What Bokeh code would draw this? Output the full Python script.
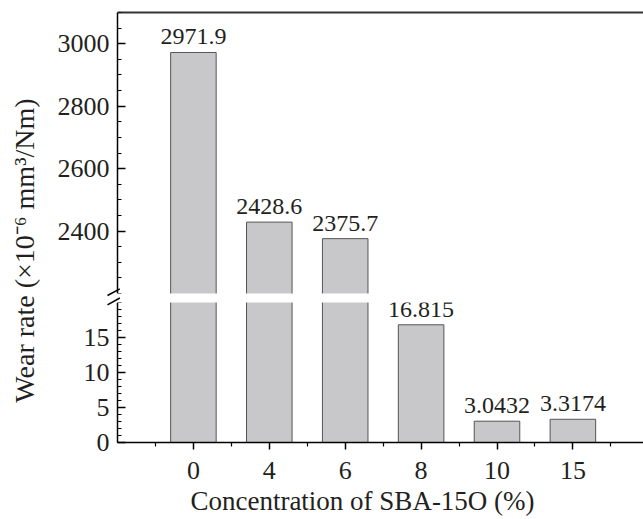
import math
from bokeh.plotting import figure
from bokeh.models import ColumnDataSource, FixedTicker, LinearAxis, Range1d
from bokeh.layouts import row, column
from bokeh.embed import file_html
from bokeh.resources import INLINE
from bokeh.core.properties import value

# ---- data ----
categories = ["0", "4", "6", "8", "10", "15"]
wear_rate = [2971.9, 2428.6, 2375.7, 16.815, 3.0432, 3.3174]
value_labels = ["2971.9", "2428.6", "2375.7", "16.815", "3.0432", "3.3174"]
upper_ticks = [2400, 2600, 2800, 3000]
upper_minor = list(range(2200, 3101, 50))
lower_ticks = [0, 5, 10, 15]
lower_minor = list(range(0, 21, 1))
upper_range = (2200, 3100)
lower_range = (0, 20)
x_label = "Concentration of SBA-15O (%)"
y_label = "Wear rate (\u00d710\u207b\u2076 mm\u00b3/Nm)"

# ---- style / geometry (pixels) ----
FONT = "Liberation Serif"
TXT = "#231f20"
BAR_FILL = "#c8c8ca"
BAR_LINE = "#555555"
TICK_FS = "26px"
VAL_FS = "24px"
XLAB_FS = "27px"
YLAB_FS = "28px"
BAR_W = 0.6
VAL_OFFSET = -8

W_LAB, W_MAIN = 53, 590
AXIS_PAD = 64            # px between frame left and the y axis line
PX = 75.9                # px per category step
H_UP, H_LO = 297, 222
UP_TOP = 12              # top border of upper panel
UP_PANEL = 281           # px height of the 2200..3100 band
LO_PANEL = 140           # px height of the 0..20 band
GAP_UP, GAP_LO = 4, 5    # white gap at the break (px in each panel)
LO_BELOW = H_LO - GAP_LO - LO_PANEL   # px below the zero line

X_START = -1.0
X_LEFT = X_START - AXIS_PAD / PX
X_END = X_LEFT + W_MAIN / PX

upy = (upper_range[1] - upper_range[0]) / UP_PANEL
loy = (lower_range[1] - lower_range[0]) / LO_PANEL
up_view = (upper_range[0] - GAP_UP * upy, upper_range[1])
lo_view = (lower_range[0] - LO_BELOW * loy, lower_range[1] + GAP_LO * loy)

xs = list(range(len(categories)))
up_idx = [i for i, v in enumerate(wear_rate) if v > lower_range[1]]
lo_idx = [i for i, v in enumerate(wear_rate) if v <= lower_range[1]]
src_all = ColumnDataSource(dict(x=xs, top=wear_rate, label=value_labels))
src_up = ColumnDataSource(dict(x=[xs[i] for i in up_idx], top=[wear_rate[i] for i in up_idx],
                               label=[value_labels[i] for i in up_idx]))
src_lo = ColumnDataSource(dict(x=[xs[i] for i in lo_idx], top=[wear_rate[i] for i in lo_idx],
                               label=[value_labels[i] for i in lo_idx]))


def y_axis(ticks, minor, bounds):
    return LinearAxis(
        fixed_location=X_START, bounds=bounds,
        ticker=FixedTicker(ticks=ticks, minor_ticks=minor),
        major_tick_in=8, major_tick_out=0, minor_tick_in=4, minor_tick_out=0,
        axis_line_width=1.5, axis_line_color="black",
        major_tick_line_width=1.5, minor_tick_line_width=1.2,
        major_label_text_font=FONT, major_label_text_font_size=TICK_FS,
        major_label_text_color=TXT, major_label_standoff=8)


def base_fig(h, yr, top_border):
    f = figure(width=W_MAIN, height=h, x_range=xr, y_range=Range1d(*yr),
               output_backend="svg", toolbar_location=None,
               min_border_left=0, min_border_right=0, min_border_top=top_border,
               min_border_bottom=0, x_axis_location=None, y_axis_location=None)
    f.outline_line_color = None
    f.grid.visible = False
    return f


xr = Range1d(X_LEFT, X_END)

# ---- upper panel ----
up = base_fig(H_UP, up_view, UP_TOP)
up.add_layout(y_axis(upper_ticks, upper_minor, upper_range), "left")
up.add_layout(LinearAxis(bounds=(X_START, X_END), ticker=FixedTicker(ticks=[]),
                         major_label_text_font_size="0px", major_tick_out=0, major_tick_in=0,
                         minor_tick_out=0, minor_tick_in=0, axis_line_width=2,
                         axis_line_color="#333333", major_label_standoff=0), "above")
up.vbar(x="x", top="top", bottom=0, width=BAR_W, source=src_up,
        fill_color=BAR_FILL, line_color=BAR_LINE, line_width=1)
up.text(x="x", y="top", text="label", source=src_up, text_align="center",
        text_baseline="bottom", y_offset=VAL_OFFSET, text_font=value(FONT),
        text_font_size=VAL_FS, text_color=TXT)
# white band of the axis break (clipped to the frame like the bars)
up.quad(left=[X_LEFT - 1], right=[X_END + 1], bottom=[up_view[0] - 20 * upy],
        top=[upper_range[0]], fill_color="white", line_color=None, level="overlay")

# ---- lower panel ----
lo = base_fig(H_LO, lo_view, 0)
lo.add_layout(y_axis(lower_ticks, lower_minor, lower_range), "left")
lo.add_layout(LinearAxis(
    fixed_location=lower_range[0], bounds=(X_START, X_END),
    ticker=FixedTicker(ticks=xs, minor_ticks=[i - 0.5 for i in xs] + [xs[-1] + 0.5]),
    major_label_overrides={i: c for i, c in zip(xs, categories)},
    major_tick_in=0, major_tick_out=7, minor_tick_in=0, minor_tick_out=4,
    axis_line_width=1.5, axis_line_color="black",
    major_tick_line_width=1.5, minor_tick_line_width=1.2,
    major_label_text_font=FONT, major_label_text_font_size=TICK_FS,
    major_label_text_color=TXT, major_label_standoff=12), "below")
lo.vbar(x="x", top="top", bottom=0, width=BAR_W, source=src_all,
        fill_color=BAR_FILL, line_color=BAR_LINE, line_width=1)
lo.text(x="x", y="top", text="label", source=src_lo, text_align="center",
        text_baseline="bottom", y_offset=VAL_OFFSET, text_font=value(FONT),
        text_font_size=VAL_FS, text_color=TXT)
lo.quad(left=[X_LEFT - 1], right=[X_END + 1], bottom=[lower_range[1]],
        top=[lo_view[1] + 20 * loy], fill_color="white", line_color=None, level="overlay")
# x axis title, centred 58 px below the zero line, 245 px right of the y axis
lo.text(x=[X_START + 245 / PX], y=[lower_range[0] - 58 * loy], text=[x_label],
        text_align="center", text_baseline="middle", text_font=value(FONT),
        text_font_size=XLAB_FS, text_color=TXT)

# ---- axis break marks (//) ----
up.segment(x0=[X_START - 10 / PX], y0=[upper_range[0] - 2 * upy],
           x1=[X_START + 2.3 / PX], y1=[upper_range[0] + 4.7 * upy],
           line_width=1.5, line_color="black", level="overlay")
lo.segment(x0=[X_START - 10 / PX], y0=[lower_range[1] - 2.3 * loy],
           x1=[X_START + 2.3 / PX], y1=[lower_range[1] + 4.5 * loy],
           line_width=1.5, line_color="black", level="overlay")

# ---- y label panel ----
H_ALL = H_UP + H_LO
lab = figure(width=W_LAB, height=H_ALL, x_range=Range1d(0, W_LAB), y_range=Range1d(0, H_ALL),
             output_backend="svg", toolbar_location=None, min_border=0,
             x_axis_location=None, y_axis_location=None)
lab.outline_line_color = None
lab.grid.visible = False
lab.text(x=[24], y=[H_ALL - 250], text=[y_label], angle=math.pi / 2, text_align="center",
         text_baseline="middle", text_font=value(FONT), text_font_size=YLAB_FS, text_color=TXT)

layout = row(lab, column(up, lo, spacing=0), spacing=0)
open("out.html", "w").write(file_html(layout, INLINE))
